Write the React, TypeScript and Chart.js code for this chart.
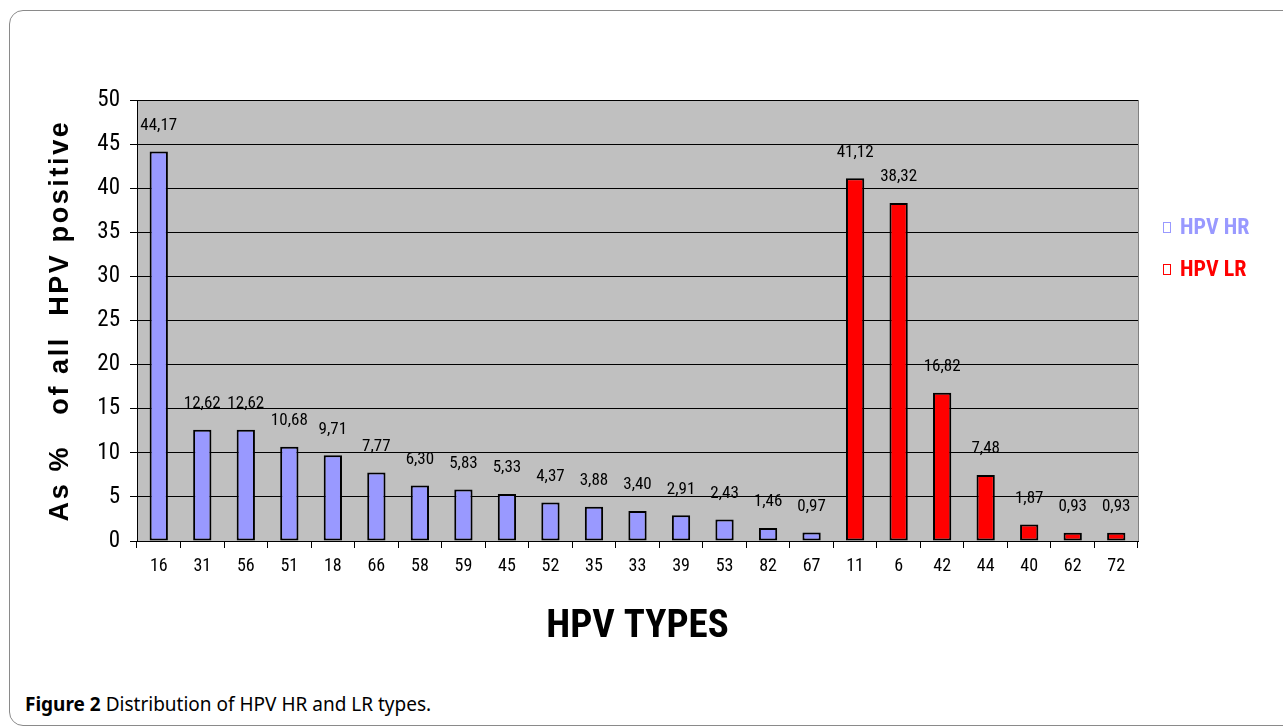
import React, { useEffect, useRef } from "react";
import { Chart, registerables } from "chart.js";

Chart.register(...registerables);

const hrTypes: string[] = ["16", "31", "56", "51", "18", "66", "58", "59", "45", "52", "35", "33", "39", "53", "82", "67"];
const hrValues: number[] = [44.17, 12.62, 12.62, 10.68, 9.71, 7.77, 6.3, 5.83, 5.33, 4.37, 3.88, 3.4, 2.91, 2.43, 1.46, 0.97];
const lrTypes: string[] = ["11", "6", "42", "44", "40", "62", "72"];
const lrValues: number[] = [41.12, 38.32, 16.82, 7.48, 1.87, 0.93, 0.93];
const legendLabels: string[] = ["HPV HR", "HPV LR"];
const yTitle = "As %   of all  HPV positive";
const xTitle = "HPV TYPES";

const HR_COLOR = "#9999ff";
const LR_COLOR = "#ff0000";
const NARROW = "'Liberation Sans Narrow', 'Arial Narrow', 'Roboto Condensed', 'Liberation Sans', sans-serif";

export default function App() {
  const ref = useRef<HTMLCanvasElement | null>(null);

  useEffect(() => {
    const canvas = ref.current;
    if (!canvas) return;
    const labels = [...hrTypes, ...lrTypes];
    const values = [...hrValues, ...lrValues];
    const colors = [...hrTypes.map(() => HR_COLOR), ...lrTypes.map(() => LR_COLOR)];

    const decor = {
      id: "decor",
      beforeDraw(chart: any) {
        const { ctx, chartArea } = chart;
        ctx.save();
        ctx.fillStyle = "#c0c0c0";
        ctx.fillRect(chartArea.left, chartArea.top, chartArea.right - chartArea.left, chartArea.bottom - chartArea.top);
        ctx.strokeStyle = "#808080";
        ctx.lineWidth = 1;
        ctx.beginPath();
        ctx.moveTo(chartArea.right + 0.5, chartArea.top);
        ctx.lineTo(chartArea.right + 0.5, chartArea.bottom);
        ctx.stroke();
        ctx.restore();
      },
      afterDraw(chart: any) {
        const { ctx, chartArea } = chart;
        const meta = chart.getDatasetMeta(0);
        ctx.save();
        // value labels
        ctx.fillStyle = "#000";
        ctx.font = `17px ${NARROW}`;
        ctx.textAlign = "center";
        ctx.textBaseline = "middle";
        meta.data.forEach((bar: any, i: number) => {
          const v = values[i];
          ctx.fillText(v.toFixed(2).replace(".", ","), bar.x, bar.y - 26);
        });
        // y title
        ctx.save();
        ctx.translate(61, (chartArea.top + chartArea.bottom) / 2);
        ctx.rotate(-Math.PI / 2);
        ctx.font = `bold 27px 'Liberation Sans', Arial, sans-serif`;
        (ctx as any).letterSpacing = "2.6px";
        ctx.textAlign = "center";
        ctx.textBaseline = "middle";
        ctx.fillText(yTitle, 0, 0);
        ctx.restore();
        // x title
        ctx.font = `bold 39px ${NARROW}`;
        ctx.textAlign = "center";
        ctx.textBaseline = "middle";
        ctx.fillText(xTitle, (chartArea.left + chartArea.right) / 2, 627);
        // legend
        const legendColors = [HR_COLOR, LR_COLOR];
        legendLabels.forEach((t, i) => {
          const y = 228 + i * 42;
          ctx.strokeStyle = legendColors[i];
          ctx.lineWidth = 1;
          ctx.strokeRect(1163.5, y - 5.5, 7, 10);
          ctx.fillStyle = legendColors[i];
          ctx.font = `bold 22px ${NARROW}`;
          ctx.textAlign = "left";
          ctx.textBaseline = "middle";
          ctx.fillText(t, 1180, y);
        });
        ctx.restore();
      },
    };

    const chart = new Chart(canvas, {
      type: "bar",
      data: {
        labels,
        datasets: [
          {
            data: values,
            backgroundColor: colors,
            borderColor: "#000",
            borderWidth: 2,
            borderSkipped: false,
            barPercentage: 0.42,
            categoryPercentage: 1,
          },
        ],
      },
      options: {
        responsive: false,
        animation: false,
        devicePixelRatio: 1,
        layout: { padding: { top: 100, right: 145, left: 0, bottom: 0 } },
        plugins: { legend: { display: false }, tooltip: { enabled: false } },
        scales: {
          x: {
            offset: true,
            grid: { offset: true, drawOnChartArea: false, drawTicks: true, tickLength: 7, color: "#000" },
            border: { display: true, color: "#000", width: 1 },
            ticks: { color: "#000", font: { size: 18, family: NARROW }, padding: 8, maxRotation: 0, autoSkip: false },
            afterFit: (s: any) => { s.height = 119; },
          },
          y: {
            min: 0,
            max: 50,
            ticks: { stepSize: 5, color: "#000", font: { size: 23, family: NARROW }, padding: 10 },
            grid: { color: "#000", lineWidth: 1, tickLength: 7 },
            border: { display: true, color: "#000", width: 1 },
            afterFit: (s: any) => { s.width = 137; },
          },
        },
      },
      plugins: [decor],
    });
    return () => chart.destroy();
  }, []);

  return (
    <div style={{ position: "absolute", left: 0, top: 0, width: 1283, height: 728, overflow: "hidden", background: "#fff" }}>
      <div
        style={{
          position: "absolute",
          left: 9,
          top: 10,
          width: 1320,
          height: 716,
          border: "1px solid #8a8a8a",
          borderRadius: 14,
          boxSizing: "border-box",
        }}
      />
      <canvas ref={ref} width={1283} height={660} style={{ position: "absolute", left: 0, top: 0 }} />
      <div
        style={{
          position: "absolute",
          left: 25,
          top: 691,
          fontFamily: "'Noto Sans', sans-serif",
          fontSize: 19,
          lineHeight: "26px",
          color: "#000",
          whiteSpace: "nowrap",
        }}
      >
        <b>Figure 2</b> Distribution of HPV HR and LR types.
      </div>
    </div>
  );
}
